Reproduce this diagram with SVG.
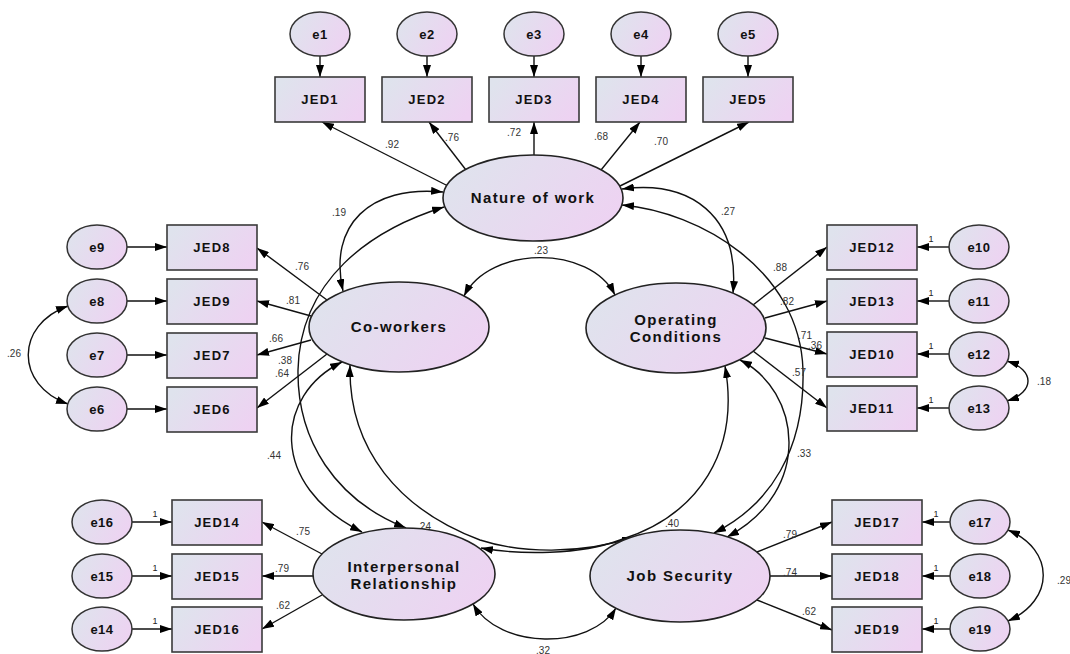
<svg xmlns="http://www.w3.org/2000/svg" width="1070" height="654" viewBox="0 0 1070 654">
  <defs>
    <linearGradient id="fillGrad" x1="0" y1="0.3" x2="1" y2="0.7">
      <stop offset="0" stop-color="#dfe3ed"/>
      <stop offset="1" stop-color="#eed2f2"/>
    </linearGradient>
    <marker id="ah" viewBox="0 0 12 8" refX="12" refY="4" markerWidth="12" markerHeight="8" markerUnits="userSpaceOnUse" orient="auto-start-reverse">
      <path d="M0,0 L12,4 L0,8 z" fill="#000"/>
    </marker>
    <style>
      .box { fill: url(#fillGrad); stroke: #3a3a3a; stroke-width: 1.6; }
      .lat { fill: url(#fillGrad); stroke: #222; stroke-width: 1.6; }
      .err { fill: url(#fillGrad); stroke: #333; stroke-width: 1.5; }
      .t { font-family: "Liberation Sans", Arial, sans-serif; font-weight: bold; fill: #111; text-anchor: middle; }
      .obs { font-size: 13px; letter-spacing: 1.2px; }
      .etx { font-size: 13px; letter-spacing: 0.5px; }
      .lt { font-size: 15px; letter-spacing: 1.4px; }
      .num { font-family: "Liberation Sans", Arial, sans-serif; font-size: 10px; fill: #333; text-anchor: middle; }
      .one { font-family: "Liberation Sans", Arial, sans-serif; font-size: 9px; fill: #222; text-anchor: middle; }
      .ln { fill: none; stroke: #111; stroke-width: 1.4; marker-end: url(#ah); }
      .cv { fill: none; stroke: #111; stroke-width: 1.4; marker-start: url(#ah); marker-end: url(#ah); }
    </style>
  </defs>

  <!-- connectors -->
  <g id="connectors">
    <!-- error terms to indicators, top row -->
    <line class="ln" x1="320" y1="56" x2="320" y2="77"/>
    <line class="ln" x1="427" y1="56" x2="427" y2="77"/>
    <line class="ln" x1="534" y1="56" x2="534" y2="77"/>
    <line class="ln" x1="641" y1="56" x2="641" y2="77"/>
    <line class="ln" x1="748" y1="56" x2="748" y2="77"/>
    <!-- Nature of work loadings -->
    <line class="ln" x1="448" y1="186" x2="322" y2="122"/>
    <line class="ln" x1="466" y1="170" x2="429" y2="122"/>
    <line class="ln" x1="534" y1="155" x2="534" y2="122"/>
    <line class="ln" x1="601" y1="170" x2="640" y2="122"/>
    <line class="ln" x1="620" y1="186" x2="749" y2="122"/>

    <!-- left upper error terms -->
    <line class="ln" x1="127" y1="247" x2="167" y2="247"/>
    <line class="ln" x1="127" y1="301" x2="167" y2="301"/>
    <line class="ln" x1="127" y1="355" x2="167" y2="355"/>
    <line class="ln" x1="127" y1="409" x2="167" y2="409"/>
    <!-- Co-workers loadings -->
    <line class="ln" x1="327" y1="300" x2="257" y2="248"/>
    <line class="ln" x1="311" y1="316" x2="257" y2="301"/>
    <line class="ln" x1="311" y1="340" x2="257" y2="355"/>
    <line class="ln" x1="327" y1="354" x2="257" y2="408"/>

    <!-- right upper error terms -->
    <line class="ln" x1="949" y1="247" x2="917" y2="247"/>
    <line class="ln" x1="949" y1="301" x2="917" y2="301"/>
    <line class="ln" x1="949" y1="354" x2="917" y2="354"/>
    <line class="ln" x1="949" y1="408" x2="917" y2="408"/>
    <!-- Operating Conditions loadings -->
    <line class="ln" x1="753" y1="305" x2="827" y2="247"/>
    <line class="ln" x1="765" y1="318" x2="827" y2="301"/>
    <line class="ln" x1="765" y1="338" x2="827" y2="354"/>
    <line class="ln" x1="753" y1="351" x2="827" y2="408"/>

    <!-- left lower error terms -->
    <line class="ln" x1="132" y1="522" x2="172" y2="522"/>
    <line class="ln" x1="132" y1="576" x2="172" y2="576"/>
    <line class="ln" x1="132" y1="629" x2="172" y2="629"/>
    <!-- Interpersonal Relationship loadings -->
    <line class="ln" x1="322" y1="554" x2="262" y2="522"/>
    <line class="ln" x1="313" y1="576" x2="262" y2="576"/>
    <line class="ln" x1="322" y1="595" x2="262" y2="629"/>

    <!-- right lower error terms -->
    <line class="ln" x1="950" y1="522" x2="922" y2="522"/>
    <line class="ln" x1="950" y1="576" x2="922" y2="576"/>
    <line class="ln" x1="950" y1="629" x2="922" y2="629"/>
    <!-- Job Security loadings -->
    <line class="ln" x1="757" y1="552" x2="832" y2="522"/>
    <line class="ln" x1="770" y1="576" x2="832" y2="576"/>
    <line class="ln" x1="757" y1="600" x2="832" y2="630"/>

    <!-- factor covariances -->
    <path class="cv" d="M443,192 C370,185 328,225 343,291"/>
    <path class="cv" d="M622,189 C690,180 740,215 733,293"/>
    <path class="cv" d="M464,296 C490,245 590,245 615,295"/>
    <path class="cv" d="M444,207 C370,230 300,280 298,370 C297,440 335,500 406,528"/>
    <path class="cv" d="M622,205 C700,212 800,270 803,370 C805,450 770,505 714,533"/>
    <path class="cv" d="M342,362 C275,395 268,485 362,532"/>
    <path class="cv" d="M350,365 C348,450 400,510 480,540 C520,553 580,555 634,537"/>
    <path class="cv" d="M725,366 C740,450 700,515 620,540 C580,555 520,555 481,548"/>
    <path class="cv" d="M740,360 C800,390 815,490 727,537"/>
    <path class="cv" d="M473,604 C500,650 590,650 616,608"/>

    <!-- error covariances -->
    <path class="cv" d="M68,306 C15,325 15,385 68,404"/>
    <path class="cv" d="M1007,361 C1035,370 1035,392 1007,401"/>
    <path class="cv" d="M1008,530 C1055,550 1055,600 1008,621"/>
  </g>

  <!-- path coefficients and correlations -->
  <g id="estimates">
    <text class="num" x="392" y="148">.92</text>
    <text class="num" x="452" y="141">.76</text>
    <text class="num" x="514" y="136">.72</text>
    <text class="num" x="601" y="140">.68</text>
    <text class="num" x="661" y="145">.70</text>

    <text class="num" x="302" y="270">.76</text>
    <text class="num" x="293" y="304">.81</text>
    <text class="num" x="276" y="342">.66</text>
    <text class="num" x="285" y="364">.38</text>
    <text class="num" x="282" y="377">.64</text>

    <text class="num" x="780" y="271">.88</text>
    <text class="num" x="787" y="305">.82</text>
    <text class="num" x="805" y="339">.71</text>
    <text class="num" x="815" y="349">.36</text>
    <text class="num" x="799" y="376">.57</text>

    <text class="num" x="303" y="535">.75</text>
    <text class="num" x="282" y="572">.79</text>
    <text class="num" x="283" y="609">.62</text>

    <text class="num" x="790" y="538">.79</text>
    <text class="num" x="790" y="576">.74</text>
    <text class="num" x="809" y="615">.62</text>

    <text class="num" x="339" y="216">.19</text>
    <text class="num" x="728" y="215">.27</text>
    <text class="num" x="541" y="254">.23</text>
    <text class="num" x="274" y="459">.44</text>
    <text class="num" x="804" y="457">.33</text>
    <text class="num" x="424" y="530">.24</text>
    <text class="num" x="672" y="527">.40</text>
    <text class="num" x="543" y="654">.32</text>

    <text class="num" x="14" y="357">.26</text>
    <text class="num" x="1044" y="385">.18</text>
    <text class="num" x="1064" y="584">.29</text>

    <text class="one" x="931" y="242">1</text>
    <text class="one" x="931" y="296">1</text>
    <text class="one" x="931" y="349">1</text>
    <text class="one" x="931" y="403">1</text>
    <text class="one" x="155" y="517">1</text>
    <text class="one" x="155" y="571">1</text>
    <text class="one" x="155" y="624">1</text>
    <text class="one" x="936" y="517">1</text>
    <text class="one" x="936" y="571">1</text>
    <text class="one" x="936" y="624">1</text>
  </g>

  <!-- error terms -->
  <g id="e1"><ellipse class="err" cx="320" cy="34" rx="30" ry="22"/><text class="t etx" x="320" y="39">e1</text></g>
  <g id="e2"><ellipse class="err" cx="427" cy="34" rx="30" ry="22"/><text class="t etx" x="427" y="39">e2</text></g>
  <g id="e3"><ellipse class="err" cx="534" cy="34" rx="30" ry="22"/><text class="t etx" x="534" y="39">e3</text></g>
  <g id="e4"><ellipse class="err" cx="641" cy="34" rx="30" ry="22"/><text class="t etx" x="641" y="39">e4</text></g>
  <g id="e5"><ellipse class="err" cx="748" cy="34" rx="30" ry="22"/><text class="t etx" x="748" y="39">e5</text></g>

  <g id="e9"><ellipse class="err" cx="97" cy="247" rx="30" ry="22"/><text class="t etx" x="97" y="252">e9</text></g>
  <g id="e8"><ellipse class="err" cx="97" cy="301" rx="30" ry="22"/><text class="t etx" x="97" y="306">e8</text></g>
  <g id="e7"><ellipse class="err" cx="97" cy="355" rx="30" ry="22"/><text class="t etx" x="97" y="360">e7</text></g>
  <g id="e6"><ellipse class="err" cx="97" cy="409" rx="30" ry="22"/><text class="t etx" x="97" y="414">e6</text></g>

  <g id="e10"><ellipse class="err" cx="979" cy="247" rx="30" ry="22"/><text class="t etx" x="979" y="252">e10</text></g>
  <g id="e11"><ellipse class="err" cx="979" cy="301" rx="30" ry="22"/><text class="t etx" x="979" y="306">e11</text></g>
  <g id="e12"><ellipse class="err" cx="979" cy="354" rx="30" ry="22"/><text class="t etx" x="979" y="359">e12</text></g>
  <g id="e13"><ellipse class="err" cx="979" cy="408" rx="30" ry="22"/><text class="t etx" x="979" y="413">e13</text></g>

  <g id="e16"><ellipse class="err" cx="102" cy="522" rx="30" ry="22"/><text class="t etx" x="102" y="527">e16</text></g>
  <g id="e15"><ellipse class="err" cx="102" cy="576" rx="30" ry="22"/><text class="t etx" x="102" y="581">e15</text></g>
  <g id="e14"><ellipse class="err" cx="102" cy="629" rx="30" ry="22"/><text class="t etx" x="102" y="634">e14</text></g>

  <g id="e17"><ellipse class="err" cx="980" cy="522" rx="30" ry="22"/><text class="t etx" x="980" y="527">e17</text></g>
  <g id="e18"><ellipse class="err" cx="980" cy="576" rx="30" ry="22"/><text class="t etx" x="980" y="581">e18</text></g>
  <g id="e19"><ellipse class="err" cx="980" cy="629" rx="30" ry="22"/><text class="t etx" x="980" y="634">e19</text></g>

  <!-- observed indicators -->
  <g id="JED1"><rect class="box" x="275" y="77" width="90" height="45"/><text class="t obs" x="320" y="104">JED1</text></g>
  <g id="JED2"><rect class="box" x="382" y="77" width="90" height="45"/><text class="t obs" x="427" y="104">JED2</text></g>
  <g id="JED3"><rect class="box" x="489" y="77" width="90" height="45"/><text class="t obs" x="534" y="104">JED3</text></g>
  <g id="JED4"><rect class="box" x="596" y="77" width="90" height="45"/><text class="t obs" x="641" y="104">JED4</text></g>
  <g id="JED5"><rect class="box" x="703" y="77" width="90" height="45"/><text class="t obs" x="748" y="104">JED5</text></g>

  <g id="JED8"><rect class="box" x="167" y="225" width="90" height="45"/><text class="t obs" x="212" y="252">JED8</text></g>
  <g id="JED9"><rect class="box" x="167" y="279" width="90" height="45"/><text class="t obs" x="212" y="306">JED9</text></g>
  <g id="JED7"><rect class="box" x="167" y="333" width="90" height="45"/><text class="t obs" x="212" y="360">JED7</text></g>
  <g id="JED6"><rect class="box" x="167" y="387" width="90" height="45"/><text class="t obs" x="212" y="414">JED6</text></g>

  <g id="JED12"><rect class="box" x="827" y="225" width="90" height="45"/><text class="t obs" x="872" y="252">JED12</text></g>
  <g id="JED13"><rect class="box" x="827" y="279" width="90" height="45"/><text class="t obs" x="872" y="306">JED13</text></g>
  <g id="JED10"><rect class="box" x="827" y="332" width="90" height="45"/><text class="t obs" x="872" y="359">JED10</text></g>
  <g id="JED11"><rect class="box" x="827" y="386" width="90" height="45"/><text class="t obs" x="872" y="413">JED11</text></g>

  <g id="JED14"><rect class="box" x="172" y="500" width="90" height="45"/><text class="t obs" x="217" y="527">JED14</text></g>
  <g id="JED15"><rect class="box" x="172" y="554" width="90" height="45"/><text class="t obs" x="217" y="581">JED15</text></g>
  <g id="JED16"><rect class="box" x="172" y="607" width="90" height="45"/><text class="t obs" x="217" y="634">JED16</text></g>

  <g id="JED17"><rect class="box" x="832" y="500" width="90" height="45"/><text class="t obs" x="877" y="527">JED17</text></g>
  <g id="JED18"><rect class="box" x="832" y="554" width="90" height="45"/><text class="t obs" x="877" y="581">JED18</text></g>
  <g id="JED19"><rect class="box" x="832" y="607" width="90" height="45"/><text class="t obs" x="877" y="634">JED19</text></g>

  <!-- latent factors -->
  <g id="nature-of-work"><ellipse class="lat" cx="533" cy="198" rx="90" ry="43"/><text class="t lt" x="533" y="203">Nature of work</text></g>
  <g id="co-workers"><ellipse class="lat" cx="399" cy="327" rx="90" ry="45"/><text class="t lt" x="399" y="332">Co-workers</text></g>
  <g id="operating-conditions"><ellipse class="lat" cx="676" cy="328" rx="90" ry="45"/><text class="t lt" x="676" y="325">Operating</text><text class="t lt" x="676" y="342">Conditions</text></g>
  <g id="interpersonal-relationship"><ellipse class="lat" cx="404" cy="574" rx="91" ry="46"/><text class="t lt" x="404" y="572">Interpersonal</text><text class="t lt" x="404" y="589">Relationship</text></g>
  <g id="job-security"><ellipse class="lat" cx="680" cy="576" rx="90" ry="46"/><text class="t lt" x="680" y="581">Job Security</text></g>
</svg>
